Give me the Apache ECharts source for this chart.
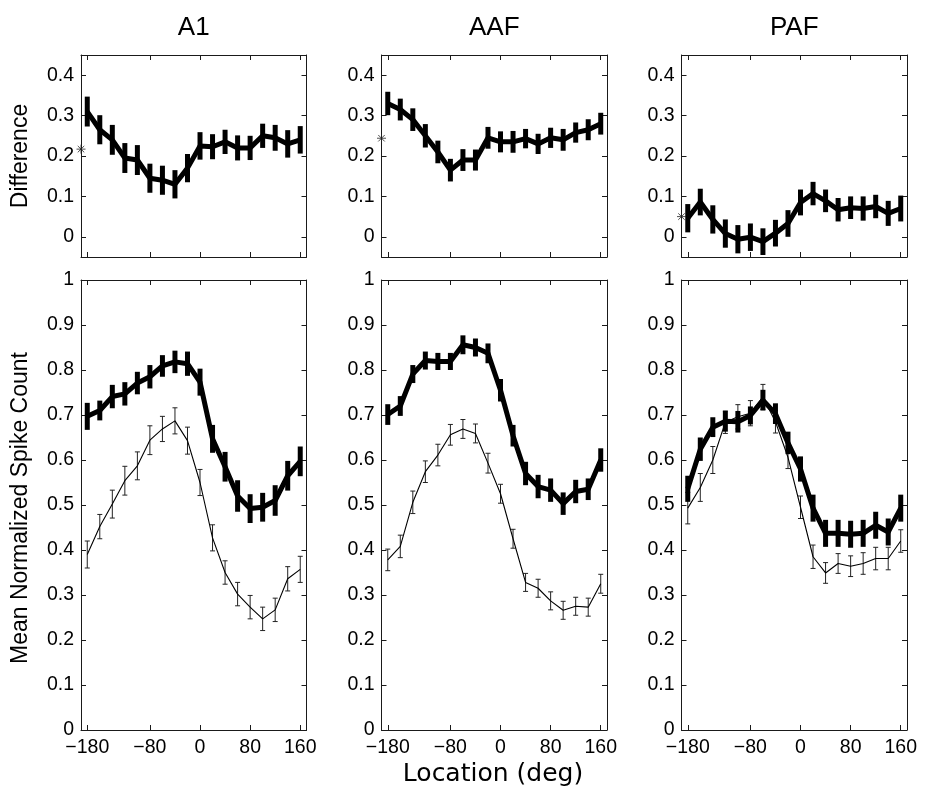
<!DOCTYPE html>
<html>
<head>
<meta charset="utf-8">
<script src="https://cdn.jsdelivr.net/npm/echarts@6/dist/echarts.min.js"></script>
<style>html,body{margin:0;padding:0;background:#fff;}#c{width:929px;height:797px;}</style>
</head>
<body>
<div id="c"></div>
<script>
// ---------- data ----------
const locations = [-180,-160,-140,-120,-100,-80,-60,-40,-20,0,20,40,60,80,100,120,140,160];
const xTicks = [-180,-80,0,80,160];
const diffTicks = [0,0.1,0.2,0.3,0.4];
const countTicks = [0,0.1,0.2,0.3,0.4,0.5,0.6,0.7,0.8,0.9,1];
const areaNames = ['A1','AAF','PAF'];

// Difference (top row)
const a1Diff     = [0.31,0.265,0.24,0.195,0.19,0.145,0.14,0.13,0.17,0.225,0.223,0.235,0.22,0.22,0.25,0.245,0.23,0.24];
const a1DiffErr  = [0.037,0.036,0.037,0.037,0.037,0.036,0.036,0.035,0.035,0.034,0.031,0.03,0.031,0.03,0.03,0.032,0.034,0.034];
const aafDiff    = [0.33,0.315,0.29,0.25,0.21,0.165,0.19,0.19,0.245,0.235,0.235,0.243,0.23,0.245,0.24,0.258,0.265,0.28];
const aafDiffErr = [0.029,0.027,0.028,0.029,0.028,0.028,0.027,0.026,0.027,0.026,0.027,0.024,0.025,0.025,0.027,0.025,0.026,0.027];
const pafDiff    = [0.046,0.086,0.043,0.008,-0.006,-0.001,-0.012,0.009,0.033,0.085,0.107,0.089,0.067,0.072,0.07,0.075,0.058,0.07];
const pafDiffErr = [0.035,0.033,0.035,0.035,0.035,0.034,0.033,0.033,0.033,0.032,0.029,0.028,0.029,0.028,0.03,0.029,0.031,0.032];
const diffStar   = [0.217,0.244,0.05];

// Mean normalized spike count (bottom row): thick and thin curves
const a1Thick     = [0.697,0.71,0.741,0.747,0.771,0.785,0.809,0.818,0.814,0.773,0.647,0.585,0.52,0.492,0.495,0.51,0.565,0.597];
const a1ThickErr  = [0.03,0.022,0.026,0.026,0.025,0.026,0.024,0.025,0.027,0.03,0.031,0.033,0.035,0.032,0.032,0.034,0.033,0.033];
const a1Thin      = [0.39,0.452,0.502,0.554,0.587,0.644,0.669,0.687,0.643,0.55,0.427,0.35,0.302,0.273,0.247,0.267,0.336,0.357];
const a1ThinErr   = [0.03,0.027,0.031,0.032,0.031,0.032,0.028,0.029,0.03,0.029,0.029,0.026,0.026,0.026,0.026,0.026,0.027,0.029];
const aafThick    = [0.701,0.72,0.791,0.821,0.819,0.819,0.856,0.85,0.837,0.755,0.654,0.57,0.541,0.533,0.503,0.53,0.535,0.6];
const aafThickErr = [0.023,0.022,0.02,0.02,0.019,0.019,0.021,0.02,0.022,0.025,0.024,0.026,0.026,0.026,0.025,0.026,0.024,0.026];
const aafThin     = [0.378,0.408,0.506,0.574,0.611,0.656,0.669,0.659,0.593,0.525,0.425,0.328,0.315,0.287,0.266,0.275,0.273,0.325];
const aafThinErr  = [0.024,0.025,0.025,0.024,0.024,0.023,0.021,0.021,0.022,0.021,0.021,0.02,0.02,0.02,0.02,0.02,0.02,0.021];
const pafThick    = [0.536,0.624,0.673,0.686,0.685,0.699,0.733,0.703,0.638,0.58,0.493,0.437,0.437,0.435,0.437,0.455,0.44,0.493];
const pafThickErr = [0.029,0.026,0.022,0.023,0.024,0.02,0.023,0.023,0.025,0.028,0.03,0.03,0.03,0.03,0.03,0.03,0.03,0.03];
const pafThin     = [0.493,0.539,0.6,0.684,0.696,0.704,0.74,0.685,0.606,0.495,0.385,0.349,0.37,0.364,0.37,0.381,0.381,0.42];
const pafThinErr  = [0.035,0.031,0.03,0.025,0.027,0.028,0.028,0.025,0.025,0.025,0.026,0.023,0.022,0.023,0.024,0.025,0.025,0.025];

const diffData  = [[a1Diff,a1DiffErr],[aafDiff,aafDiffErr],[pafDiff,pafDiffErr]];
const thickData = [[a1Thick,a1ThickErr],[aafThick,aafThickErr],[pafThick,pafThickErr]];
const thinData  = [[a1Thin,a1ThinErr],[aafThin,aafThinErr],[pafThin,pafThinErr]];

// ---------- layout ----------
const colLeft = [81, 381.5, 681.5];
const colW = 225.5;
const rowTop = [55, 280];
const rowH = [202, 450];
const FONT = 'Liberation Sans';

const chart = echarts.init(document.getElementById('c'), null, {renderer:'canvas'});

const grids = [], xAxes = [], yAxes = [], series = [];
function fmtX(v){ return v < 0 ? '\u2212' + Math.abs(v) : String(v); }
function fmtY(v){ return String(Math.round(v*10)/10); }

function pts(vals, errs){ return locations.map((x,i)=>[x, vals[i], errs[i]]); }

function thickErr(params, api){
  const x = api.value(0), y = api.value(1), e = api.value(2);
  const a = api.coord([x, y - e]), b = api.coord([x, y + e]);
  return {type:'line', shape:{x1:a[0], y1:a[1], x2:b[0], y2:b[1]}, style:{stroke:'#000', lineWidth:5}};
}
function thinErr(params, api){
  const x = api.value(0), y = api.value(1), e = api.value(2);
  const a = api.coord([x, y - e]), b = api.coord([x, y + e]);
  const w = 2.5;
  return {type:'group', children:[
    {type:'line', shape:{x1:a[0], y1:a[1], x2:b[0], y2:b[1]}, style:{stroke:'#222', lineWidth:1}},
    {type:'line', shape:{x1:a[0]-w, y1:a[1], x2:a[0]+w, y2:a[1]}, style:{stroke:'#222', lineWidth:1}},
    {type:'line', shape:{x1:b[0]-w, y1:b[1], x2:b[0]+w, y2:b[1]}, style:{stroke:'#222', lineWidth:1}}
  ]};
}

const axisLineStyle = {color:'#1a1a1a', width:1};
const labelStyle = {color:'#000', fontFamily:FONT, fontSize:19.5};

for (let r = 0; r < 2; r++) {
  for (let c = 0; c < 3; c++) {
    const g = grids.length;
    grids.push({left:colLeft[c], top:rowTop[r], width:colW, height:rowH[r], containLabel:false});
    const yMin = r === 0 ? -0.05 : 0, yMax = r === 0 ? 0.45 : 1;
    const yT = r === 0 ? diffTicks : countTicks;
    // bottom x axis
    xAxes.push({type:'value', gridIndex:g, min:-190, max:170, position:'bottom',
      axisLine:{show:true, onZero:false, lineStyle:axisLineStyle},
      axisTick:{show:true, inside:true, length:5, customValues:xTicks, lineStyle:axisLineStyle},
      axisLabel:{show:r===1, customValues:xTicks, formatter:fmtX, margin:8, ...labelStyle},
      splitLine:{show:false}});
    // top x axis (box)
    xAxes.push({type:'value', gridIndex:g, min:-190, max:170, position:'top',
      axisLine:{show:true, onZero:false, lineStyle:axisLineStyle},
      axisTick:{show:true, inside:true, length:5, customValues:xTicks, lineStyle:axisLineStyle},
      axisLabel:{show:false}, splitLine:{show:false}});
    // left y axis
    yAxes.push({type:'value', gridIndex:g, min:yMin, max:yMax, position:'left',
      axisLine:{show:true, onZero:false, lineStyle:axisLineStyle},
      axisTick:{show:true, inside:true, length:5, customValues:yT, lineStyle:axisLineStyle},
      axisLabel:{show:true, customValues:yT, formatter:fmtY, margin:7, ...labelStyle},
      splitLine:{show:false}});
    // right y axis (box)
    yAxes.push({type:'value', gridIndex:g, min:yMin, max:yMax, position:'right',
      axisLine:{show:true, onZero:false, lineStyle:axisLineStyle},
      axisTick:{show:true, inside:true, length:5, customValues:yT, lineStyle:axisLineStyle},
      axisLabel:{show:false}, splitLine:{show:false}});
    const xi = g*2, yi = g*2;
    if (r === 0) {
      const [v, e] = diffData[c];
      series.push({type:'line', xAxisIndex:xi, yAxisIndex:yi, data:pts(v,e), symbol:'none',
        lineStyle:{color:'#000', width:5, join:'round'}, z:3, silent:true});
      series.push({type:'custom', xAxisIndex:xi, yAxisIndex:yi, data:pts(v,e), renderItem:thickErr,
        encode:{x:0, y:1}, z:4, silent:true});
      series.push({type:'scatter', xAxisIndex:xi, yAxisIndex:yi, data:[[-190, diffStar[c]]],
        symbol:'path://M0,-5L0,5M-5,0L5,0M-3.6,-3.6L3.6,3.6M-3.6,3.6L3.6,-3.6', symbolSize:9,
        itemStyle:{color:'rgba(0,0,0,0)', borderColor:'#222', borderWidth:1}, clip:false, z:5, silent:true});
    } else {
      const [tv, te] = thinData[c];
      const [kv, ke] = thickData[c];
      series.push({type:'line', xAxisIndex:xi, yAxisIndex:yi, data:pts(tv,te), symbol:'none',
        lineStyle:{color:'#000', width:1.1}, z:2, silent:true});
      series.push({type:'custom', xAxisIndex:xi, yAxisIndex:yi, data:pts(tv,te), renderItem:thinErr,
        encode:{x:0, y:1}, z:2, silent:true});
      series.push({type:'line', xAxisIndex:xi, yAxisIndex:yi, data:pts(kv,ke), symbol:'none',
        lineStyle:{color:'#000', width:5, join:'round'}, z:3, silent:true});
      series.push({type:'custom', xAxisIndex:xi, yAxisIndex:yi, data:pts(kv,ke), renderItem:thickErr,
        encode:{x:0, y:1}, z:4, silent:true});
    }
  }
}

const graphics = [];
areaNames.forEach((name, c) => {
  graphics.push({type:'text', x:colLeft[c] + colW/2, y:28,
    style:{text:name, fontFamily:FONT, fontSize:26, fill:'#000', textAlign:'center', textVerticalAlign:'middle'}});
});
graphics.push({type:'text', x:21, y:156, rotation:Math.PI/2,
  style:{text:'Difference', fontFamily:FONT, fontSize:23, fill:'#000', textAlign:'center', textVerticalAlign:'middle'}});
graphics.push({type:'text', x:21, y:508, rotation:Math.PI/2,
  style:{text:'Mean Normalized Spike Count', fontFamily:FONT, fontSize:23, fill:'#000', textAlign:'center', textVerticalAlign:'middle'}});
graphics.push({type:'text', x:493, y:774,
  style:{text:'Location (deg)', fontFamily:'DejaVu Sans', fontSize:25, fill:'#000', textAlign:'center', textVerticalAlign:'middle'}});

chart.setOption({
  animation:false,
  backgroundColor:'#fff',
  grid:grids, xAxis:xAxes, yAxis:yAxes, series:series, graphic:graphics
});
</script>
</body>
</html>
